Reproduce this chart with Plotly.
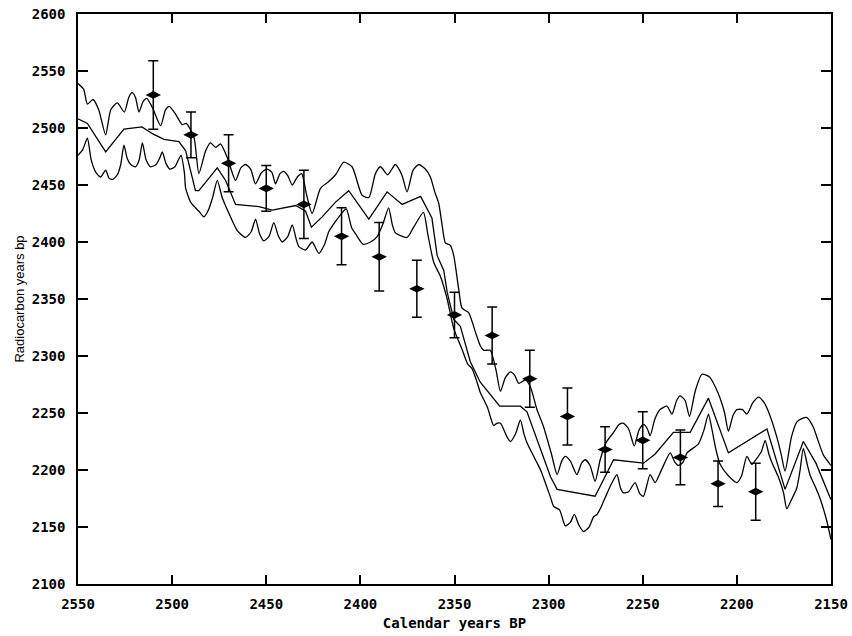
import plotly.graph_objects as go

# calibration curve (middle line), calendar years BP -> radiocarbon years bp
mid_cal = [2550, 2545, 2535.3, 2525.6, 2516, 2510.5, 2504.3, 2496.4, 2492.8, 2487.6,
           2485.8, 2478.7, 2476, 2471.6, 2466.3, 2453.9, 2446.8, 2434.3, 2429.1, 2426,
           2420.3, 2413.2, 2406.2, 2395.5, 2385.8, 2377.8, 2368, 2362, 2359.2, 2355.7,
           2353.9, 2350.4, 2346.9, 2341.6, 2336.3, 2326, 2315, 2311.5, 2304.4, 2299,
           2295.5, 2275.3, 2265.5, 2249.6, 2243.4, 2233.7, 2224.8, 2215.1, 2204.5, 2193,
           2184, 2174.4, 2164.7, 2158, 2150]
mid_bp = [2508, 2504, 2479, 2499, 2501, 2495, 2490, 2488, 2480, 2445,
          2445, 2460, 2465, 2454, 2433, 2431, 2428, 2432, 2427, 2413,
          2422, 2435, 2445, 2420, 2444, 2433, 2440, 2421, 2388, 2375,
          2356, 2332, 2326, 2295, 2277, 2256, 2256, 2251, 2218, 2194,
          2183, 2177, 2209, 2206, 2214, 2233, 2233, 2263, 2215, 2227,
          2236, 2183, 2225, 2206, 2174]

# upper envelope
up_cal = [2550, 2547, 2545, 2542, 2539, 2535.3, 2532.6, 2529.1, 2525.4, 2523,
          2521.3, 2519.5, 2517.6, 2515.5, 2513.5, 2510.5, 2506.1, 2503.5, 2501.5, 2498.5,
          2494.6, 2492.5, 2488.4, 2485.8, 2482.2, 2479.6, 2476.9, 2474.3, 2470.7, 2466.3,
          2463.5, 2461, 2458.3, 2455.7, 2452.5, 2449.5, 2447, 2445.1, 2442.7, 2440.7,
          2438.5, 2436.2, 2433.5, 2431.2, 2428.5, 2425.6, 2421.2, 2416.8, 2413.2, 2408.8,
          2404.4, 2399.1, 2395.5, 2392, 2389.3, 2385.5, 2381.4, 2378, 2375.2, 2372,
          2369, 2365.5, 2362.8, 2360.5, 2358.4, 2355.7, 2354.8, 2352.2, 2350.4, 2347.8,
          2346, 2342.5, 2338.5, 2336.3, 2334.5, 2331, 2328, 2325.6, 2323, 2320.3,
          2318, 2315.9, 2312.4, 2309.7, 2306.2, 2302.7, 2298.5, 2295.5, 2293, 2291.1,
          2288.5, 2285, 2282.5, 2280.5, 2278, 2275.3, 2272.6, 2269.5, 2265.5, 2262.5,
          2260.2, 2257.5, 2254.5, 2252, 2249.6, 2247.5, 2246.1, 2243.5, 2240.8, 2237.2,
          2234.5, 2232, 2230.1, 2227.5, 2225.2, 2222, 2218.6, 2216, 2214.2, 2211.5,
          2208.9, 2206.5, 2204.5, 2202, 2200, 2197, 2194.7, 2191.5, 2188.5, 2185.5,
          2183.2, 2178.8, 2176.5, 2174.4, 2171, 2168.2, 2165.5, 2162.8, 2159.5, 2156.7,
          2154, 2150]
up_bp = [2539, 2534, 2521, 2525, 2516, 2494, 2516, 2522, 2514, 2527,
         2531, 2527, 2514, 2523, 2526, 2518, 2502, 2516, 2519, 2513,
         2503, 2504, 2492, 2460, 2480, 2487, 2483, 2486, 2474, 2454,
         2465, 2468, 2464, 2451, 2461, 2464, 2461, 2451, 2460, 2462,
         2458, 2450, 2457, 2460, 2441, 2425, 2447, 2453, 2459, 2470,
         2466, 2441, 2439, 2460, 2466, 2459, 2468, 2459, 2444, 2463,
         2468, 2464, 2457, 2444, 2434, 2405, 2399, 2397, 2388, 2359,
         2342, 2338, 2319, 2309, 2305, 2305, 2288, 2269, 2281, 2286,
         2283, 2276, 2279, 2273, 2253, 2238, 2214, 2196, 2208, 2212,
         2208, 2196, 2206, 2209, 2204, 2190, 2209, 2224, 2233, 2240,
         2241, 2236, 2221, 2235, 2240, 2236, 2230, 2245, 2253, 2256,
         2249, 2261, 2265, 2261, 2247, 2270, 2284, 2283, 2281, 2273,
         2263, 2250, 2234, 2248, 2253, 2253, 2249, 2259, 2264, 2259,
         2251, 2229, 2214, 2199, 2229, 2242, 2245, 2246, 2238, 2225,
         2213, 2204]

# lower envelope
lo_cal = [2550, 2547.5, 2545, 2543, 2540.5, 2538, 2535.3, 2533.5, 2531.5, 2529.1,
          2527.3, 2525.6, 2523.8, 2522, 2519.5, 2517.5, 2515.8, 2513.8, 2511.4, 2508.5,
          2506.5, 2505.2, 2503.3, 2501.2, 2498.5, 2496.4, 2495.3, 2493.5, 2492.8, 2490.2,
          2487.6, 2485.8, 2483.1, 2480.5, 2478.5, 2476, 2473.4, 2469.8, 2465.4, 2461,
          2458, 2455.7, 2453.5, 2451.3, 2448.5, 2446, 2443.5, 2441.5, 2438.5, 2436.2,
          2434, 2432.7, 2429.1, 2425.6, 2422.1, 2419, 2416.8, 2413.2, 2409.5, 2407.5,
          2404.5, 2402.1, 2398.5, 2394.6, 2391, 2388, 2385, 2383, 2381.4, 2375.2,
          2371.7, 2366.5, 2364.2, 2361, 2357.5, 2353.9, 2350.4, 2346, 2343, 2340.7,
          2338, 2336.3, 2332.5, 2329.2, 2327.5, 2325.6, 2322.1, 2320.3, 2317.5, 2315,
          2313, 2311.5, 2307, 2304, 2301.8, 2299, 2297.3, 2294.2, 2291.1, 2288.5,
          2286.3, 2284, 2281.4, 2278.5, 2276.1, 2274.3, 2272, 2269.9, 2266.3, 2263.7,
          2261.8, 2260.2, 2257.5, 2255.5, 2254, 2251.5, 2249.6, 2246.1, 2243.4, 2239.8,
          2235.4, 2233, 2231, 2228.5, 2226.5, 2220.4, 2217.5, 2215.1, 2213.3, 2211,
          2208.9, 2204.5, 2200, 2197.5, 2194.7, 2192, 2189.5, 2187, 2185, 2183,
          2181.5, 2178, 2175.2, 2173.5, 2171, 2168.2, 2166.5, 2164.7, 2162.5, 2161,
          2158, 2155.8, 2152.5, 2150]
lo_bp = [2476, 2481, 2491, 2472, 2461, 2457, 2463, 2456, 2455, 2459,
         2468, 2485, 2473, 2468, 2466, 2472, 2487, 2472, 2466, 2468,
         2474, 2479, 2469, 2464, 2466, 2473, 2476, 2461, 2447, 2435,
         2430, 2427, 2422, 2429, 2439, 2454, 2439, 2425, 2410, 2404,
         2409, 2420, 2407, 2401, 2405, 2417, 2405, 2400, 2405, 2415,
         2402, 2396, 2393, 2400, 2390, 2398, 2409, 2418, 2426, 2429,
         2412, 2406, 2398, 2400, 2405, 2416, 2430, 2415, 2408, 2404,
         2413, 2426, 2407, 2382, 2370, 2350, 2324, 2306, 2293, 2289,
         2277, 2268, 2255, 2239, 2241, 2241, 2229, 2225, 2232, 2244,
         2231, 2224, 2209, 2199, 2189, 2176, 2168, 2165, 2151, 2154,
         2161, 2152, 2146, 2150, 2159, 2161, 2168, 2176, 2189, 2196,
         2184, 2180, 2181, 2186, 2189, 2179, 2177, 2196, 2189, 2201,
         2215, 2207, 2204, 2207, 2215, 2223, 2235, 2249, 2236, 2217,
         2205, 2195, 2189, 2195, 2212, 2205, 2210, 2216, 2226, 2214,
         2207, 2194, 2180, 2166, 2174, 2184, 2199, 2219, 2204, 2195,
         2184, 2175, 2157, 2139]

# measured samples with 1-sigma errors
sample_cal = [2510, 2490, 2470, 2450, 2430, 2410, 2390, 2370, 2350, 2330,
              2310, 2290, 2270, 2250, 2230, 2210, 2190]
sample_bp = [2529, 2494, 2469, 2447, 2433, 2405, 2387, 2359, 2336, 2318,
             2280, 2247, 2218, 2226, 2211, 2188, 2181]
sample_err = [30, 20, 25, 20, 30, 25, 30, 25, 20, 25,
              25, 25, 20, 25, 24, 20, 25]

tick_font = dict(family="DejaVu Sans Mono", size=14, color="black", weight="bold")

fig = go.Figure()

# envelopes get a light spline so the scallops look like arcs, the curve itself is straight segments
for xs, ys, shape in [(up_cal, up_bp, "spline"), (mid_cal, mid_bp, "linear"), (lo_cal, lo_bp, "spline")]:
    fig.add_trace(go.Scatter(
        x=xs, y=ys,
        mode="lines",
        line=dict(color="black", width=1.3, shape=shape, smoothing=0.6),
        showlegend=False
    ))

fig.add_trace(go.Scatter(
    x=sample_cal, y=sample_bp,
    mode="markers",
    marker=dict(symbol="diamond-wide", size=11, color="black"),
    error_y=dict(type="data", array=sample_err, color="black", thickness=1.5, width=5),
    showlegend=False
))

fig.update_layout(
    width=852, height=636,
    margin=dict(l=78, r=21, t=14, b=52),
    paper_bgcolor="white",
    plot_bgcolor="white",
    xaxis=dict(
        range=[2550, 2150],
        dtick=50,
        automargin=False,
        showgrid=False, zeroline=False,
        showline=True, linecolor="black", linewidth=1.5,
        mirror="ticks",
        ticks="inside", ticklen=9, tickwidth=1.5, tickcolor="black",
        tickfont=tick_font,
        ticklabelstandoff=6,
        title=dict(text="Calendar years BP",
                   font=dict(family="DejaVu Sans Mono", size=14, color="black", weight="bold"),
                   standoff=8)
    ),
    yaxis=dict(
        range=[2100, 2600],
        dtick=50,
        automargin=False,
        showgrid=False, zeroline=False,
        showline=True, linecolor="black", linewidth=1.5,
        mirror="ticks",
        ticks="inside", ticklen=10, tickwidth=1.5, tickcolor="black",
        tickfont=tick_font,
        ticklabelstandoff=8,
        title=dict(text="Radiocarbon years bp",
                   font=dict(family="Liberation Sans", size=13, color="black"),
                   standoff=4)
    )
)

# page body has a default 8px margin which would push the 852x636 figure off the window
fig.write_html("out.html",
               config={"displayModeBar": False},
               post_script="document.body.style.margin='0';")
